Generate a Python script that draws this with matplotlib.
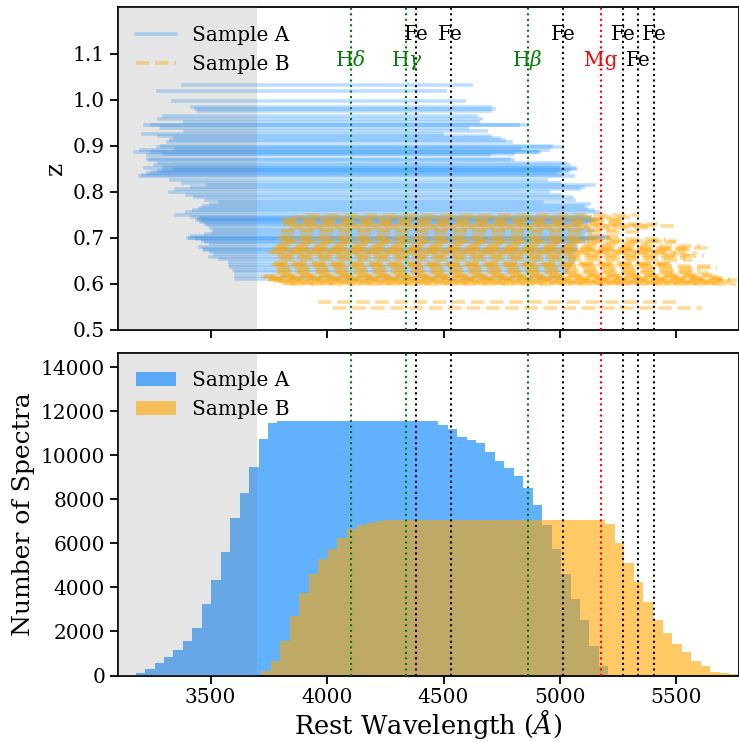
import numpy as np
import matplotlib.pyplot as plt

#fonte serifada como no original
plt.rcParams['font.family'] = 'DejaVu Serif'
plt.rcParams['mathtext.fontset'] = 'dejavuserif'

#linhas espectrais (nome, comprimento de onda, cor, linha do texto)
line_names = ['H$\\delta$', 'H$\\gamma$', 'Fe', 'Fe', 'H$\\beta$', 'Fe', 'Mg', 'Fe', 'Fe', 'Fe']
line_waves = [4102, 4341, 4383, 4531, 4861, 5015, 5177, 5270, 5335, 5406]
line_colors = ['green', 'green', 'black', 'black', 'green', 'black', 'red', 'black', 'black', 'black']
line_rows = [1, 1, 0, 0, 1, 0, 1, 0, 1, 0]

#painel de cima: cada espectro (z, inicio, fim) em comprimento de onda de repouso
a_z = [1.031, 1.018, 0.997, 0.985, 0.979, 0.975, 0.965, 0.959, 0.952, 0.946,
       0.944, 0.939, 0.932, 0.925, 0.920, 0.916, 0.912, 0.908, 0.900, 0.897,
       0.893, 0.890, 0.887, 0.886, 0.883, 0.879, 0.871, 0.870, 0.862, 0.858,
       0.854, 0.852, 0.849, 0.847, 0.845, 0.843, 0.840, 0.837, 0.835, 0.826,
       0.820, 0.815, 0.810, 0.805, 0.799, 0.793, 0.788, 0.783, 0.778, 0.774,
       0.769, 0.764, 0.760, 0.756, 0.750, 0.746, 0.743, 0.740, 0.738, 0.736,
       0.734, 0.731, 0.727, 0.722, 0.716, 0.712, 0.708, 0.703, 0.700, 0.699,
       0.697, 0.694, 0.690, 0.686, 0.680, 0.676, 0.673, 0.669, 0.665, 0.658,
       0.653, 0.648, 0.642, 0.637, 0.631, 0.626, 0.618, 0.610]
a_start = [3381, 3274, 3339, 3420, 3439, 3450, 3300, 3278, 3389, 3250,
           3220, 3288, 3389, 3210, 3280, 3346, 3330, 3317, 3290, 3274,
           3350, 3200, 3174, 3250, 3300, 3231, 3231, 3240, 3280, 3260,
           3300, 3220, 3346, 3300, 3280, 3250, 3230, 3210, 3196, 3331,
           3380, 3489, 3420, 3350, 3324, 3400, 3431, 3480, 3539, 3500,
           3470, 3453, 3430, 3400, 3353, 3420, 3460, 3450, 3440, 3470,
           3460, 3480, 3489, 3500, 3520, 3510, 3480, 3420, 3403, 3410,
           3440, 3467, 3480, 3500, 3453, 3470, 3474, 3500, 3520, 3496,
           3540, 3582, 3585, 3589, 3600, 3610, 3610, 3610]
a_end = [4618, 4508, 4586, 4700, 4718, 4700, 4640, 4661, 4650, 4820,
         4854, 4600, 4682, 4495, 4700, 4740, 4760, 4790, 4960, 5011,
         4830, 4950, 4911, 4900, 4800, 4697, 4780, 4800, 5020, 5040,
         4990, 5060, 5068, 5040, 5000, 5030, 4980, 5000, 5054, 4940,
         5000, 5147, 5100, 5080, 4947, 5000, 5047, 5060, 4925, 5125,
         5100, 5111, 5140, 5168, 5100, 5130, 5125, 5160, 5150, 5140,
         5125, 5110, 5080, 5120, 5140, 5130, 5100, 5200, 5211, 5180,
         5150, 5120, 5100, 5060, 5070, 5070, 5068, 5060, 5050, 5060,
         5060, 5054, 5045, 5040, 5030, 5025, 5010, 5000]

b_z = [0.750, 0.745, 0.741, 0.738, 0.734, 0.731, 0.728, 0.725, 0.722, 0.718,
       0.712, 0.705, 0.700, 0.697, 0.693, 0.690, 0.686, 0.683, 0.679, 0.676,
       0.674, 0.672, 0.669, 0.666, 0.663, 0.660, 0.656, 0.651, 0.646, 0.643,
       0.640, 0.638, 0.635, 0.630, 0.626, 0.623, 0.620, 0.617, 0.615, 0.612,
       0.611, 0.609, 0.607, 0.606, 0.603, 0.601, 0.599, 0.561, 0.548]
b_start = [3910, 3850, 3803, 3820, 3810, 3810, 3830, 3870, 3840, 3803,
           3800, 3800, 3786, 3800, 3820, 3800, 3790, 3780, 3767, 3780,
           3770, 3800, 3746, 3760, 3790, 3803, 3790, 3800, 3770, 3770,
           3760, 3780, 3782, 3790, 3782, 3790, 3803, 3730, 3717, 3760,
           3750, 3746, 3770, 3790, 3800, 3820, 3846, 3960, 4025]
b_end = [5340, 5300, 5254, 5300, 5268, 5420, 5375, 5497, 5400, 5240,
         5350, 5250, 5218, 5454, 5497, 5500, 5380, 5600, 5647, 5540,
         5560, 5450, 5500, 5590, 5560, 5619, 5540, 5569, 5480, 5500,
         5454, 5650, 5676, 5600, 5597, 5640, 5655, 5680, 5610, 5700,
         5730, 5762, 5700, 5726, 5680, 5740, 5754, 5512, 5611]

#painel de baixo: numero de espectros por bin
a_counts = [100, 318, 590, 833, 1180, 1590, 2180, 3230, 4320, 5590,
            7136, 8270, 9450, 10730, 11450,
            11560, 11560, 11560, 11560, 11560, 11560, 11560, 11560, 11560,
            11560, 11560, 11560, 11560, 11560, 11560, 11560, 11560,
            11360, 11180, 10850, 10680, 10545, 10136, 9727, 9410, 9045,
            8500, 7727, 6818, 5727, 4590, 3454, 2515, 1363, 454]
b_counts = [212, 667, 1577, 2680, 3740, 4590, 5300, 5760, 6227, 6636,
            6848, 6924, 7000,
            7045, 7045, 7045, 7045, 7045, 7045, 7045, 7045, 7045, 7045,
            7045, 7045, 7045, 7045, 7045, 7045, 7045, 7045, 7045, 7045,
            7045, 7045, 7045,
            6863, 6000, 5120, 4260, 3330, 2515, 1940, 1424, 1060, 667,
            454, 175, 120, 85]

a_edges = np.linspace(3178, 5208, len(a_counts) + 1)
b_edges = np.linspace(3716, 5769, len(b_counts) + 1)

fig = plt.figure(figsize=(7.39, 7.42), dpi=100)
ax1 = fig.add_axes([0.159, 0.5553, 0.841, 0.4346])
ax2 = fig.add_axes([0.159, 0.0896, 0.841, 0.4351], sharex=ax1)

#linhas dos espectros
for i in range(len(a_z)):
    ax1.plot([a_start[i], a_end[i]], [a_z[i], a_z[i]], color='dodgerblue',
             alpha=0.3, lw=2.6, label='Sample A' if i == 0 else None)
for i in range(len(b_z)):
    ax1.plot([b_start[i], b_end[i]], [b_z[i], b_z[i]], color='orange', ls='--',
             alpha=0.4, lw=2.6, label='Sample B' if i == 0 else None)

#histogramas
ax2.bar(a_edges[:-1], a_counts, width=np.diff(a_edges), align='edge',
        color='dodgerblue', alpha=0.7, lw=0, label='Sample A')
ax2.bar(b_edges[:-1], b_counts, width=np.diff(b_edges), align='edge',
        color='orange', alpha=0.6, lw=0, label='Sample B')

for ax in (ax1, ax2):
    ax.axvspan(3100, 3700, color='gray', alpha=0.2, lw=0, zorder=5)
    for w, c in zip(line_waves, line_colors):
        ax.axvline(w, color=c, ls=':', lw=1.5, zorder=6)
    ax.tick_params(direction='out', length=5.5, width=1.3, labelsize=14.5)
    for s in ax.spines.values():
        s.set_linewidth(1.3)

#nomes das linhas
for name, w, c, r in zip(line_names, line_waves, line_colors, line_rows):
    ax1.text(w, 1.1285 if r == 0 else 1.0724, name, color=c, fontsize=14.5,
             ha='center', va='baseline', zorder=7)

ax1.set_xlim(3100, 5769)
ax1.set_ylim(0.5, 1.2)
ax1.set_yticks([0.5, 0.6, 0.7, 0.8, 0.9, 1.0, 1.1])
ax1.set_xticks([3500, 4000, 4500, 5000, 5500])
ax1.tick_params(labelbottom=False)
ax1.set_ylabel('z', fontsize=18)
ax1.legend(loc='upper left', frameon=False, fontsize=14.5)

ax2.set_ylim(0, 14660)
ax2.set_yticks(np.arange(0, 14001, 2000))
ax2.set_xlabel('Rest Wavelength ($\\AA$)', fontsize=18.5, labelpad=0)
ax2.set_ylabel('Number of Spectra', fontsize=18)
ax2.legend(loc='upper left', frameon=False, fontsize=14.5)

plt.savefig('out.png', dpi=100)
